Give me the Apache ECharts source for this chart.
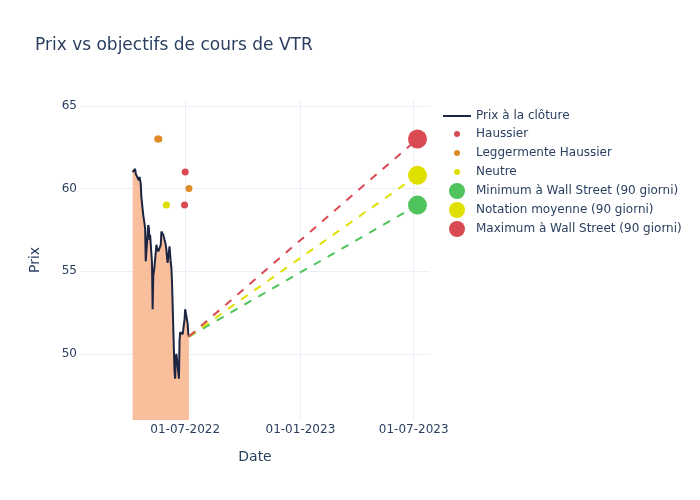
<!DOCTYPE html>
<html>
<head>
<meta charset="utf-8">
<script src="https://cdn.jsdelivr.net/npm/echarts@6/dist/echarts.min.js"></script>
<style>
  html, body { margin: 0; padding: 0; background: #fff; }
  #chart { width: 700px; height: 500px; }
</style>
</head>
<body>
<div id="chart"></div>
<script>
// closing prices (trading days)
var priceDates = [
  '2022-04-08', '2022-04-11', '2022-04-12', '2022-04-13', '2022-04-14',
  '2022-04-18', '2022-04-19', '2022-04-20', '2022-04-21', '2022-04-22',
  '2022-04-25', '2022-04-26', '2022-04-27', '2022-04-28', '2022-04-29',
  '2022-05-02', '2022-05-03', '2022-05-04', '2022-05-05', '2022-05-06',
  '2022-05-09', '2022-05-10', '2022-05-11', '2022-05-12', '2022-05-13',
  '2022-05-16', '2022-05-17', '2022-05-18', '2022-05-19', '2022-05-20',
  '2022-05-23', '2022-05-24', '2022-05-25', '2022-05-26', '2022-05-27',
  '2022-05-31', '2022-06-01', '2022-06-02', '2022-06-03',
  '2022-06-06', '2022-06-07', '2022-06-08', '2022-06-09', '2022-06-10',
  '2022-06-13', '2022-06-14', '2022-06-15', '2022-06-16', '2022-06-17',
  '2022-06-21', '2022-06-22', '2022-06-23', '2022-06-24',
  '2022-06-27', '2022-06-28', '2022-06-29', '2022-06-30', '2022-07-01',
  '2022-07-05', '2022-07-06', '2022-07-07'
];
var priceValues = [
  61.0, 61.1, 61.2, 60.9, 60.8,
  60.5, 60.7, 60.6, 60.3, 59.5,
  58.4, 58.3, 57.9, 57.6, 55.6,
  55.7, 57.8, 57.6, 56.9, 57.2,
  55.5, 52.7, 54.7, 55.0, 55.3,
  56.6, 56.4, 56.5, 56.2, 56.3,
  56.6, 57.4, 57.4, 57.3, 57.2,
  56.6, 56.3, 55.8, 55.5,
  56.5, 56.6, 55.5, 55.2, 54.3,
  50.2, 48.9, 48.5, 49.8, 50.0,
  48.5, 50.8, 51.3, 51.4,
  51.2, 51.5, 51.6, 52.1, 52.7,
  51.8, 51.2, 51.05
];

// analyst ratings
var haussierDates = ['2022-06-30', '2022-07-01'];
var haussierValues = [59, 61];
var leggermenteDates = ['2022-05-18', '2022-05-20', '2022-07-07'];
var leggermenteValues = [63, 63, 60];
var neutreDates = ['2022-06-01'];
var neutreValues = [59];

// 90 day targets, one year after last close
var targetStartDate = '2022-07-07';
var targetStartValue = 51.05;
var targetEndDate = '2023-07-07';
var targetNames = ['Minimum à Wall Street (90 giorni)', 'Notation moyenne (90 giorni)', 'Maximum à Wall Street (90 giorni)'];
var targetValues = [59, 60.8, 63];
var targetColors = ['#4fc35c', '#e0e000', '#d94a53'];

var textColor = '#2a3f5f';
var gridColor = '#ebf0f8';
var font = 'DejaVu Sans';

function pairs(xs, ys){
	var out = [];
	for (var i = 0; i < xs.length; i++) {
		out.push([xs[i], ys[i]]);
	}
	return out;
}

function dotSeries(name, xs, ys, color){
	return {
		name: name,
		type: 'scatter',
		data: pairs(xs, ys),
		symbolSize: 7,
		itemStyle: { color: color, opacity: 1 },
		z: 4
	};
}

var series = [];
series.push({
	name: 'Prix à la clôture',
	type: 'line',
	data: pairs(priceDates, priceValues),
	showSymbol: false,
	lineStyle: { color: '#1c2541', width: 2 },
	itemStyle: { color: '#1c2541' },
	areaStyle: { color: '#f9be9b', opacity: 1, origin: 'start' },
	z: 2
});

for (var i = 0; i < targetValues.length; i++) {
	series.push({
		type: 'line',
		data: [[targetStartDate, targetStartValue], [targetEndDate, targetValues[i]]],
		showSymbol: false,
		silent: true,
		lineStyle: { color: targetColors[i], width: 2, type: [8, 8] },
		z: 3
	});
}

series.push(dotSeries('Haussier', haussierDates, haussierValues, '#d94a53'));
series.push(dotSeries('Leggermente Haussier', leggermenteDates, leggermenteValues, '#de8c27'));
series.push(dotSeries('Neutre', neutreDates, neutreValues, '#dede00'));

for (var j = 0; j < targetValues.length; j++) {
	series.push({
		name: targetNames[j],
		type: 'scatter',
		data: [[targetEndDate, targetValues[j]]],
		symbolSize: 19,
		itemStyle: { color: targetColors[j], opacity: 1 },
		z: 5
	});
}

var legendText = { color: textColor, fontSize: 12, fontFamily: font };

var option = {
	backgroundColor: '#fff',
	animation: false,
	textStyle: { fontFamily: font },
	title: {
		text: 'Prix vs objectifs de cours de VTR',
		left: 35,
		top: 37,
		padding: 0,
		textStyle: { color: textColor, fontSize: 17, fontWeight: 'normal', fontFamily: font }
	},
	legend: [
		{
			data: ['Prix à la clôture'],
			left: 443, top: 110, padding: 0,
			icon: 'rect', itemWidth: 28, itemHeight: 2,
			textStyle: legendText
		},
		{
			data: ['Haussier', 'Leggermente Haussier', 'Neutre'],
			orient: 'vertical',
			left: 454, top: 128, padding: 0,
			icon: 'circle', itemWidth: 28, itemHeight: 6, itemGap: 7,
			textStyle: legendText
		},
		{
			data: targetNames,
			orient: 'vertical',
			left: 449, top: 183, padding: 0,
			icon: 'circle', itemWidth: 28, itemHeight: 16, itemGap: 3,
			textStyle: legendText
		}
	],
	grid: { left: 80, right: 270, top: 100, bottom: 80 },
	xAxis: {
		type: 'time',
		min: '2022-01-14',
		max: '2023-07-27',
		minInterval: 182 * 86400000,
		maxInterval: 183 * 86400000,
		name: 'Date',
		nameLocation: 'middle',
		nameGap: 30,
		nameTextStyle: { color: textColor, fontSize: 14, fontFamily: font },
		axisLine: { show: false },
		axisTick: { show: false },
		axisLabel: {
			color: textColor, fontSize: 12, fontFamily: font, margin: 4,
			formatter: '{dd}-{MM}-{yyyy}',
			showMinLabel: false, showMaxLabel: false
		},
		splitLine: { show: true, showMinLine: false, showMaxLine: false, lineStyle: { color: gridColor, width: 1 } }
	},
	yAxis: {
		type: 'value',
		min: 46,
		max: 65.36,
		splitNumber: 4,
		name: 'Prix',
		nameLocation: 'middle',
		nameGap: 38,
		nameTextStyle: { color: textColor, fontSize: 14, fontFamily: font },
		axisLine: { show: false },
		axisTick: { show: false },
		axisLabel: {
			color: textColor, fontSize: 12, fontFamily: font, margin: 3,
			showMinLabel: false, showMaxLabel: false
		},
		splitLine: { show: true, showMinLine: false, showMaxLine: false, lineStyle: { color: gridColor, width: 1 } }
	},
	series: series
};

var chart = echarts.init(document.getElementById('chart'));
chart.setOption(option);
</script>
</body>
</html>
